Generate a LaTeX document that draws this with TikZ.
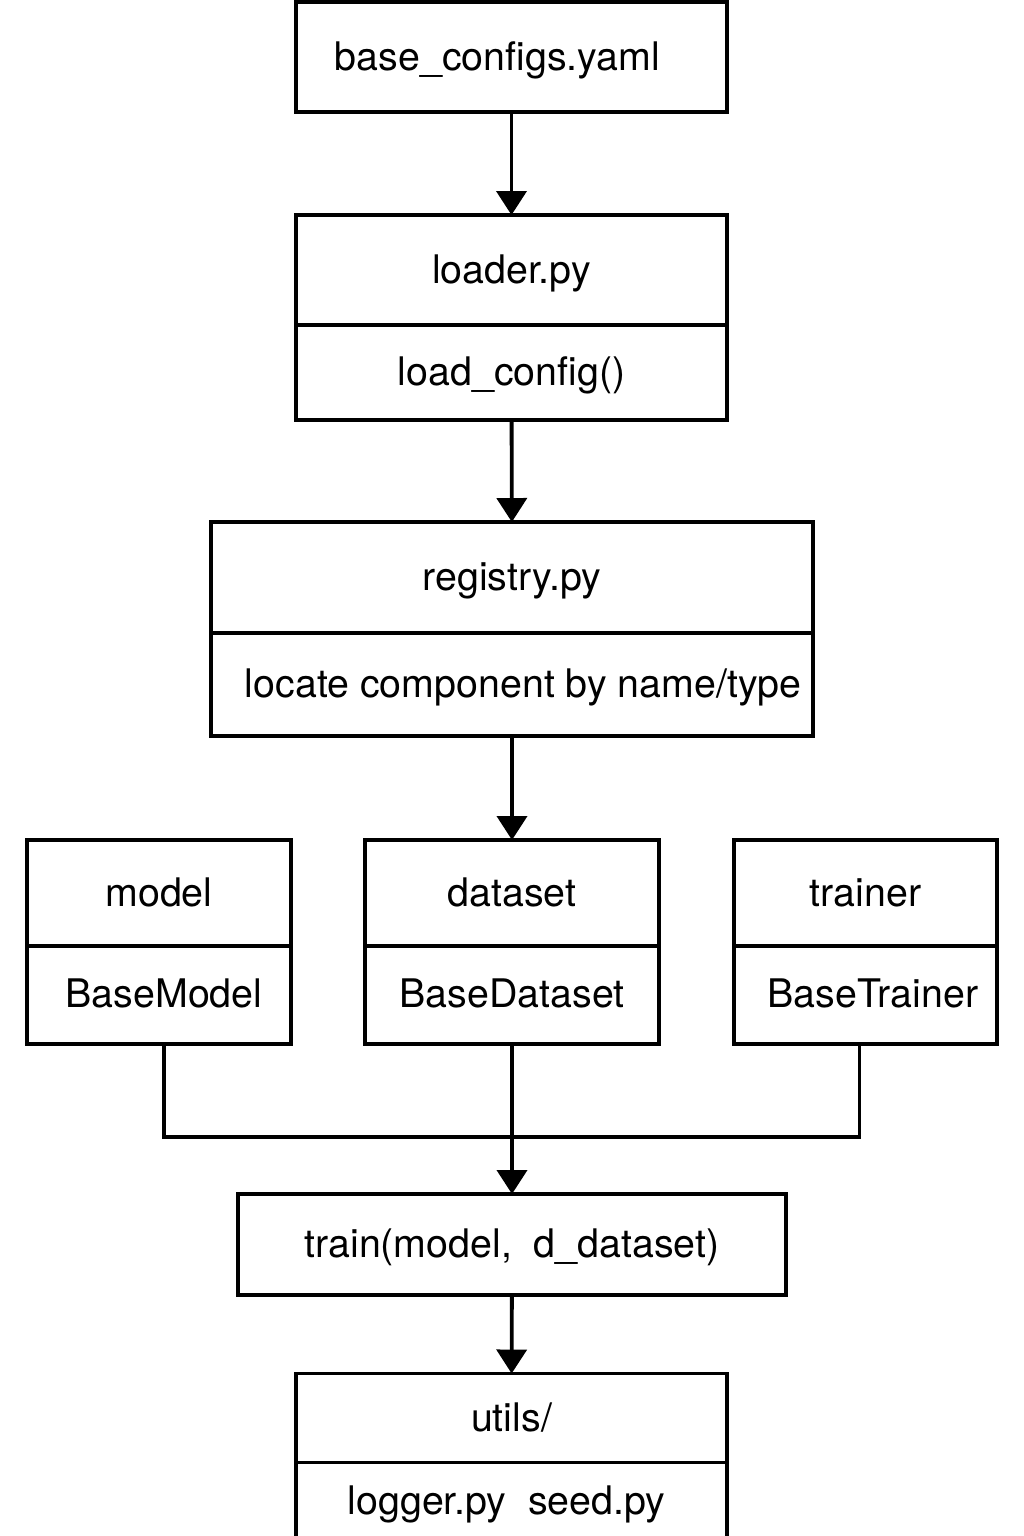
\documentclass[tikz,border=0pt]{standalone}
\usepackage{fontspec}
\setmainfont{TeX Gyre Heros}
\usetikzlibrary{positioning,arrows.meta}
\begin{document}
\begin{tikzpicture}[x=0.02cm,y=-0.02cm,
  box/.style={draw,line width=2.2pt,outer sep=0pt,inner sep=0pt,
    text height=0.52cm,text depth=0cm,font=\fontsize{22.4}{27}\selectfont},
  link/.style={line width=2.2pt},
  arr/.style={link,-{Triangle[length=0.48cm,width=0.6cm]}}]
\useasboundingbox (0,0) rectangle (1024,1536);
\clip (0,0) rectangle (1024,1536);

\node[box,minimum width=8.62cm,minimum height=2.2cm] (base) at (511.5,57) {base\_configs.yaml\kern0.56cm};

\node[box,minimum width=8.62cm,minimum height=2.2cm] (loader) at (511.5,270) {loader.py};
\node[box,minimum width=8.62cm,minimum height=1.9cm,below=0pt of loader] (loadfn) {load\_config()};

\node[box,minimum width=12.04cm,minimum height=2.22cm] (registry) at (512,577.5) {registry.py};
\node[box,minimum width=12.04cm,minimum height=2.06cm,below=0pt of registry] (locate) {\hspace{0.45cm}locate component by name/type};

\node[box,minimum width=5.28cm,minimum height=2.12cm] (model) at (159,893) {model};
\node[box,minimum width=5.28cm,minimum height=1.96cm,below=0pt of model] (basemodel) {\hspace{0.2cm}BaseModel};
\node[box,minimum width=5.88cm,minimum height=2.12cm] (dataset) at (512,893) {dataset};
\node[box,minimum width=5.88cm,minimum height=1.96cm,below=0pt of dataset] (basedataset) {BaseDataset};
\node[box,minimum width=5.26cm,minimum height=2.12cm] (trainer) at (865.5,893) {trainer};
\node[box,minimum width=5.26cm,minimum height=1.96cm,below=0pt of trainer] (basetrainer) {\hspace{0.3cm}BaseTrainer};

\node[box,minimum width=10.96cm,minimum height=2.02cm] (train) at (512,1244.5) {train(model,\ \ d\_dataset)};

\node[box,minimum width=8.62cm,minimum height=1.78cm] (utils) at (511.5,1418) {utils/};
\node[box,minimum width=8.62cm,minimum height=1.56cm,below=0pt of utils] (utilfiles) {logger.py\ \ seed.py\kern0.2cm};

\draw[arr] (base) -- (loader);
\draw[arr] (loadfn) -- (registry);
\draw[arr] (locate) -- (dataset);

\coordinate (join) at (512,1137);
\draw[link] ([xshift=0.1cm]basemodel.south) |- (join) -| ([xshift=-0.12cm]basetrainer.south);
\draw[arr] (basedataset) -- (train);
\draw[arr] (train) -- (utils);
\end{tikzpicture}
\end{document}
